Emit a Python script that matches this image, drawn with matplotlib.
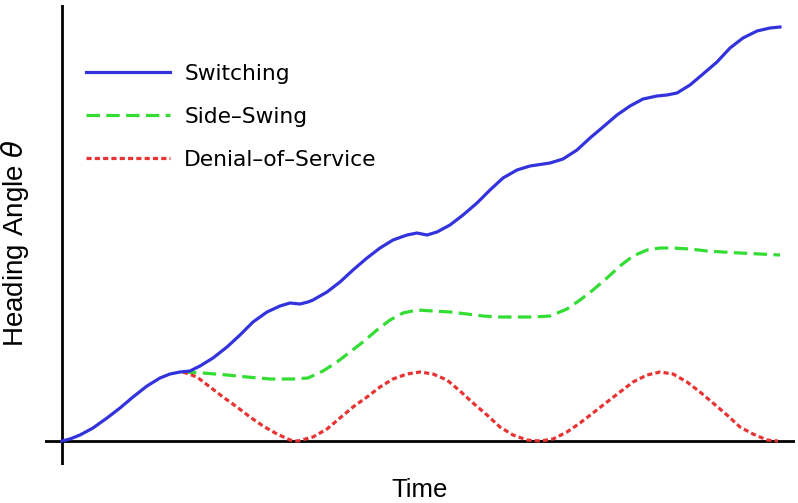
import matplotlib
matplotlib.use("Agg")
import matplotlib.pyplot as plt

# Data (arbitrary time / heading-angle units)
switch_t = [0, 8, 18, 31, 45, 58, 71, 85, 98, 108, 118, 128, 138, 151, 165, 178, 191, 205,
            218, 228, 238, 246, 251, 265, 278, 291, 305, 318, 331, 345, 355, 365, 375, 388,
            401, 415, 428, 441, 455, 468, 488, 501, 515, 528, 541, 555, 568, 581, 595, 605,
            615, 628, 641, 655, 668, 681, 695, 708, 718]
switch_v = [0, 2, 6, 13, 23, 33, 44, 55, 63, 67, 69, 70, 75, 83, 94, 106, 119, 129,
            135, 138, 137, 139, 141, 149, 159, 171, 183, 193, 201, 206, 208, 206, 209, 216,
            226, 238, 251, 263, 271, 275, 278, 282, 291, 303, 314, 326, 335, 342, 345, 346,
            348, 356, 367, 379, 393, 403, 410, 413, 414]

swing_t = [121, 141, 165, 185, 208, 231, 246, 261, 275, 288, 301, 315, 328, 341, 355, 371,
           388, 405, 421, 438, 455, 471, 488, 505, 518, 531, 545, 558, 571, 585, 598, 611,
           628, 645, 661, 678, 698, 718]
swing_v = [69, 68, 66, 64, 62, 62, 63, 70, 79, 89, 99, 111, 121, 128, 131, 130,
           129, 127, 125, 124, 124, 124, 125, 132, 141, 151, 163, 175, 185, 191, 193, 193,
           192, 190, 189, 188, 187, 186]

dos_t = [121, 135, 148, 161, 175, 188, 201, 215, 228, 236, 251, 265, 278, 291, 305, 318,
         331, 345, 358, 371, 385, 398, 411, 425, 438, 451, 465, 478, 491, 505, 518, 531,
         545, 558, 571, 585, 598, 611, 625, 638, 651, 665, 678, 691, 705, 716]
dos_v = [69, 64, 54, 44, 34, 24, 15, 7, 1, 0, 4, 12, 23, 34, 44, 54,
         62, 67, 69, 67, 61, 50, 38, 26, 14, 6, 1, 0, 2, 9, 18, 28,
         39, 49, 59, 66, 69, 67, 59, 49, 38, 26, 14, 7, 1, 0]

labels = ["Switching", "Side\u2013Swing", "Denial\u2013of\u2013Service"]

W, H = 798, 503
fig = plt.figure(figsize=(W / 100, H / 100), dpi=100)
ax = fig.add_axes([45 / W, (H - 465) / H, 750 / W, 460 / H])
ax.set_xlim(-17, 733)
ax.set_ylim(-24, 436)
for s in ax.spines.values():
    s.set_visible(False)
ax.set_xticks([])
ax.set_yticks([])
ax.axhline(0, color="black", lw=2.0, zorder=1)
ax.axvline(0, color="black", lw=2.0, zorder=1)

lw = 2.3
ax.plot(switch_t, switch_v, color="#3333dd", lw=lw, solid_joinstyle="round",
        label=labels[0], zorder=3)
ax.plot(swing_t, swing_v, color="#33dd33", lw=lw, dashes=(4.2, 2.0),
        label=labels[1], zorder=2)
ax.plot(dos_t, dos_v, color="#e83333", lw=lw, dashes=(1.6, 1.0),
        label=labels[2], zorder=2)

leg = ax.legend(loc="upper left", bbox_to_anchor=(41 / 750, (465 - 64) / 460),
                frameon=False, prop={"family": "DejaVu Sans", "size": 15.7},
                handlelength=3.85, handletextpad=0.65, labelspacing=1.05,
                borderaxespad=0, borderpad=0)

fig.text(420 / W, 1 - 497 / H, "Time", ha="center", va="baseline",
         family="Liberation Sans", fontsize=18.5)
fig.text(15 / W, 1 - 243 / H, r"Heading Angle $\theta$", ha="center", va="center",
         rotation=90, family="Liberation Sans", fontsize=20)

fig.savefig("out.png", dpi=100)
